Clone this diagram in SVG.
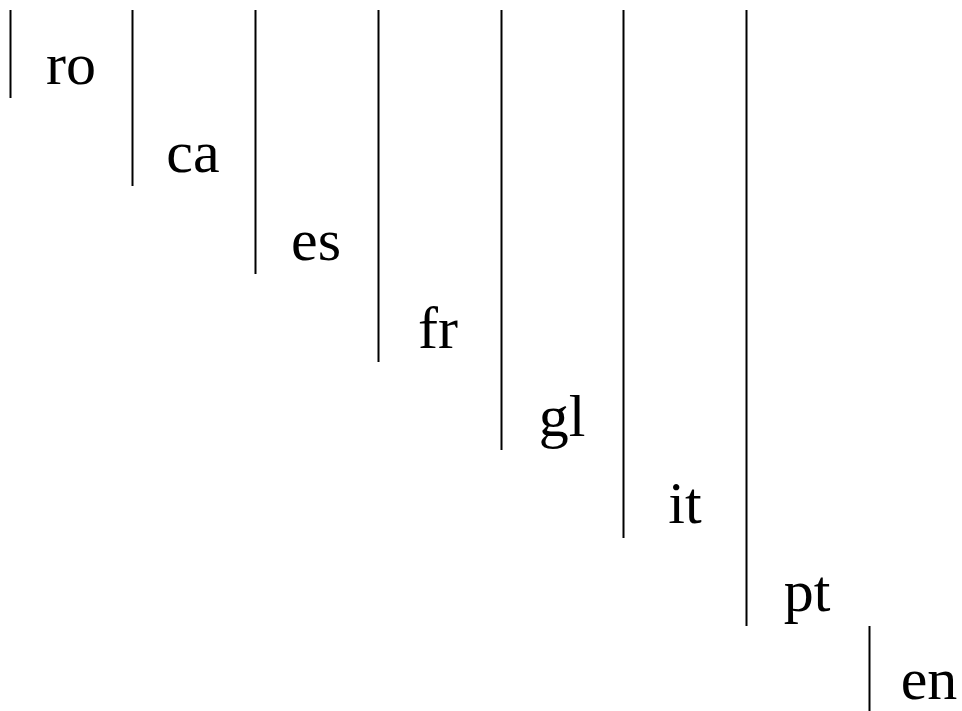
<svg xmlns="http://www.w3.org/2000/svg" width="962" height="711" viewBox="0 0 962 711">
<style>
.l{stroke:#000;stroke-width:2;fill:none}
.t{font-family:"Liberation Serif",serif;font-size:60px;text-anchor:middle;fill:#000}
</style>
<rect width="962" height="711" fill="#fff"/>
<g id="connectors">
<line class="l" x1="10.5" y1="10" x2="10.5" y2="98"/>
<line class="l" x1="132.5" y1="10" x2="132.5" y2="186"/>
<line class="l" x1="255.5" y1="10" x2="255.5" y2="274"/>
<line class="l" x1="378.5" y1="10" x2="378.5" y2="362"/>
<line class="l" x1="501.5" y1="10" x2="501.5" y2="450"/>
<line class="l" x1="623.5" y1="10" x2="623.5" y2="538"/>
<line class="l" x1="746.5" y1="10" x2="746.5" y2="626"/>
<line class="l" x1="869.5" y1="626" x2="869.5" y2="711"/>
</g>
<g id="ro"><text class="t" x="71" y="84">ro</text></g>
<g id="ca"><text class="t" x="193" y="172">ca</text></g>
<g id="es"><text class="t" x="316" y="260">es</text></g>
<g id="fr"><text class="t" x="438" y="348">fr</text></g>
<g id="gl"><text class="t" x="562" y="436">gl</text></g>
<g id="it"><text class="t" x="685" y="523">it</text></g>
<g id="pt"><text class="t" x="807" y="611">pt</text></g>
<g id="en"><text class="t" x="929" y="699">en</text></g>
</svg>
